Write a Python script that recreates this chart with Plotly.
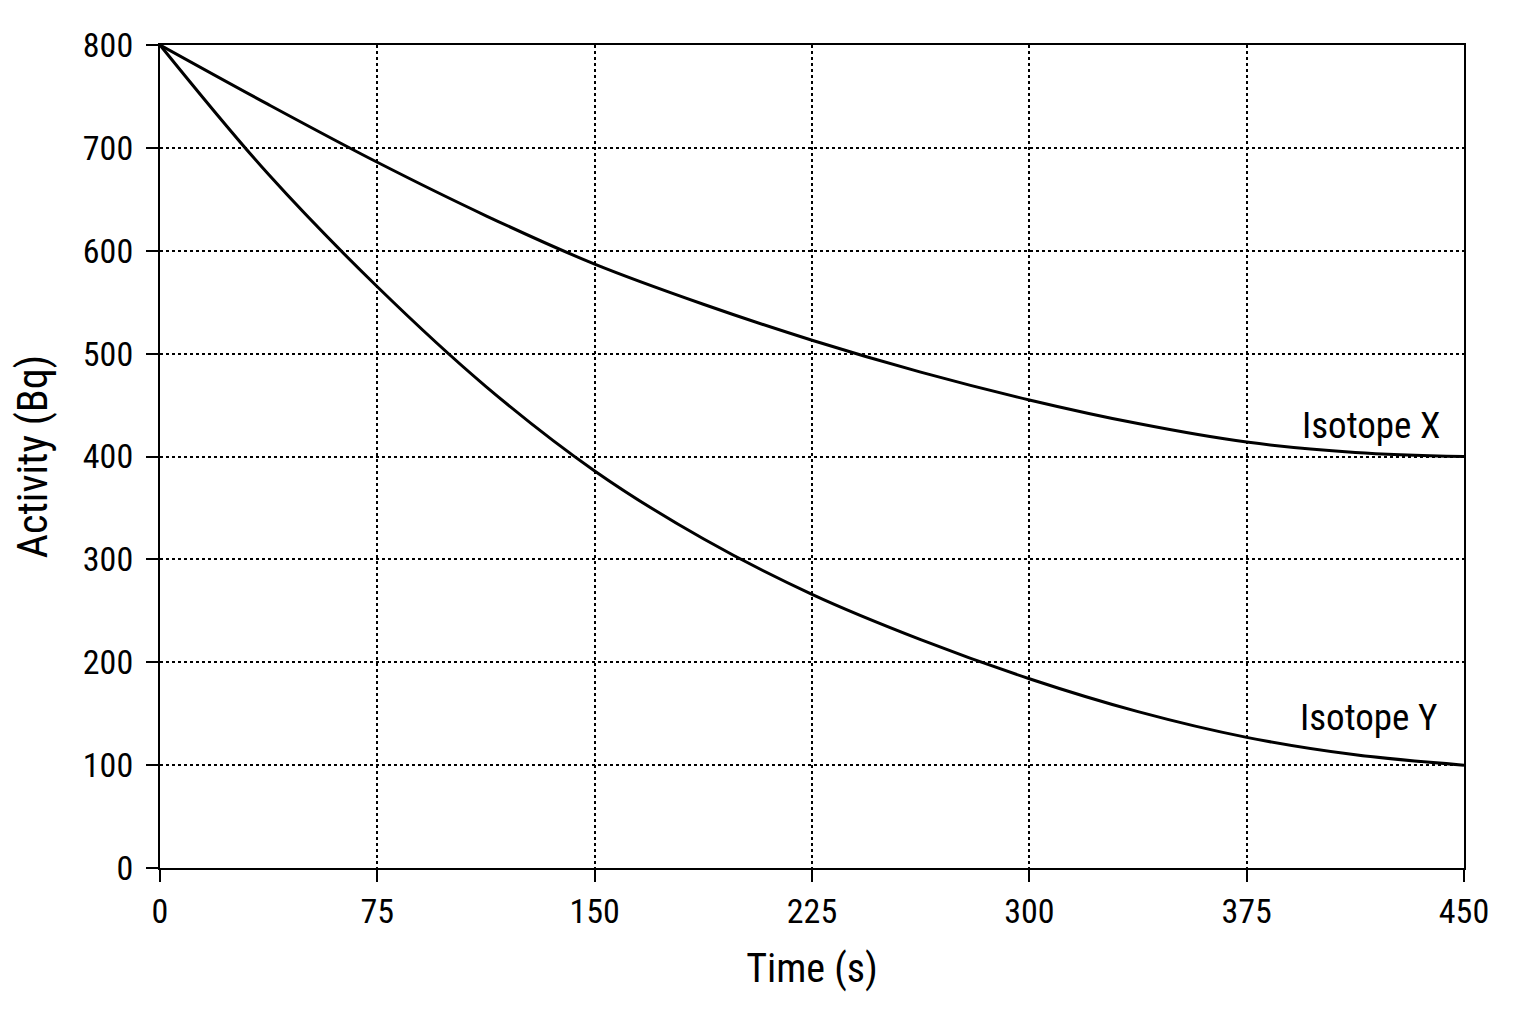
import plotly.graph_objects as go

# values
time_s = [0, 37.5, 75, 112.5, 150, 187.5, 225, 262.5, 300, 337.5, 375, 412.5, 450]
activity_x = [800, 742, 686, 634, 587, 548, 513, 482, 455, 432, 414, 404, 400]
activity_y = [800, 674, 565, 468, 386, 320, 266, 222, 184, 152, 127, 110, 100]

x_ticks = [0, 75, 150, 225, 300, 375, 450]
y_ticks = [0, 100, 200, 300, 400, 500, 600, 700, 800]

labels = ["Isotope X", "Isotope Y"]
label_pos = [(442.5, 430), (441.5, 146)]

fnt = "Liberation Sans Narrow, Arial Narrow, Roboto Condensed, Liberation Sans, Arial, sans-serif"

fig = go.Figure()
for vals, name in zip([activity_x, activity_y], labels):
    fig.add_trace(go.Scatter(x=time_s, y=vals, mode="lines", name=name,
                             line=dict(color="black", width=3, shape="spline", smoothing=1)))

for txt, (lx, ly) in zip(labels, label_pos):
    fig.add_annotation(x=lx, y=ly, text=txt, showarrow=False, xanchor="right", yanchor="middle",
                       font=dict(family=fnt, size=37, color="black"))

axis_common = dict(
    showline=True, linecolor="black", linewidth=2, mirror=True,
    ticks="outside", ticklen=12, tickwidth=2, tickcolor="black",
    showgrid=True, gridcolor="black", gridwidth=1.5, griddash="dot",
    zeroline=False, tickfont=dict(family=fnt, size=34, color="black"),
)

fig.update_xaxes(range=[0, 450], tickvals=x_ticks, ticklabelstandoff=0,
                 title=dict(text="Time (s)", font=dict(family=fnt, size=40, color="black"), standoff=24),
                 **axis_common)
fig.update_yaxes(range=[0, 800], tickvals=y_ticks, ticklabelstandoff=6,
                 title=dict(text="Activity (Bq)", font=dict(family=fnt, size=42, color="black"), standoff=28),
                 **axis_common)

# page adds an 8px offset, so margins are trimmed to land the plot where the reference has it
fig.update_layout(
    width=1536, height=1024,
    margin=dict(l=152, r=80, t=37, b=164),
    paper_bgcolor="white", plot_bgcolor="white",
    showlegend=False,
)

fig.write_html("out.html")
